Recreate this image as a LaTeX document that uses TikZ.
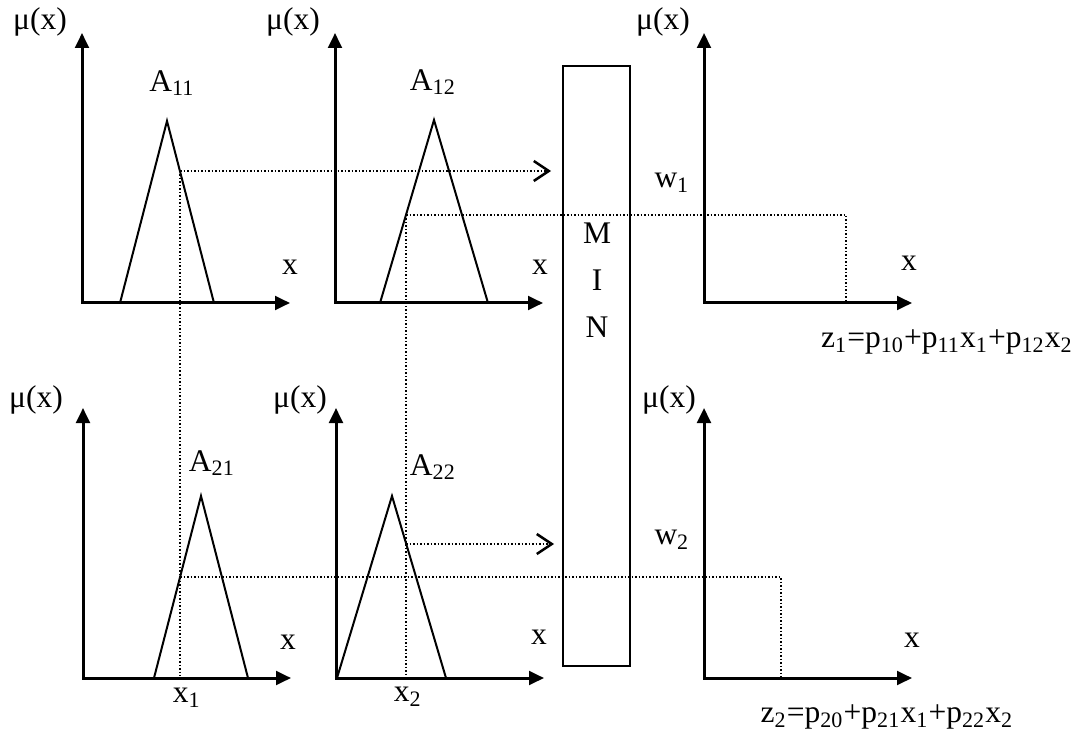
\documentclass[tikz,border=0pt]{standalone}
\usepackage{fontspec}
\setmainfont{Liberation Serif}
\usetikzlibrary{arrows.meta}
\newcommand{\lo}[1]{\textsubscript{#1}}

\begin{document}
\begin{tikzpicture}[x=0.4pt, y=-0.4pt, font=\fontsize{12.6}{15}\selectfont,
  axis/.style={line width=1.2pt, {Triangle[length=6pt,width=5.5pt]}-{Triangle[length=6pt,width=5.5pt]}},
  mf/.style={line width=0.8pt},
  guide/.style={line width=0.6pt, dash pattern=on 0.6pt off 0.8pt},
  cut/.style={guide, -{Straight Barb[length=6pt,width=8pt,line width=1pt]}}]
  \useasboundingbox (0,0) rectangle (1078,731);

  \foreach \ox/\oy in {82/303, 335/303, 704/303, 83/678, 336/678, 704/678}
    \draw[axis] (\ox,\oy-270) -- (\ox,\oy) -- (\ox+208,\oy);

  \draw[mf] (120,303) -- (167,121) -- (214,303);
  \draw[mf] (380,303) -- (434,120) -- (488,303);
  \draw[mf] (154,678) -- (201,496) -- (248,678);
  \draw[mf] (337,678) -- (392,496) -- (446,678);

  \coordinate (c11) at (180,171);
  \coordinate (c12) at (406,215);
  \coordinate (c21) at (180,577);
  \coordinate (c22) at (406,544);
  \coordinate (x1) at (180,676);
  \coordinate (x2) at (406,674);
  \coordinate (in1) at (551,171);
  \coordinate (in2) at (554,544);
  \coordinate (w1) at (846,215);
  \coordinate (z1) at (846,303);
  \coordinate (w2) at (781,577);
  \coordinate (z2) at (781,678);

  \node[draw, line width=0.8pt, minimum width=26.8pt, minimum height=240pt, inner sep=0pt] (minbox) at (596.5,366) {};
  \node[align=center, font=\fontsize{12.6}{18.8}\selectfont] (mintext) at (597,280) {M\\I\\N};

  \draw[guide] (c11) -- (x1);
  \draw[guide] (c12) -- (x2);
  \draw[cut] (c11) -- (in1);
  \draw[cut] (c22) -- (in2);
  \draw[guide] (c12) -- (w1) -- (z1);
  \draw[guide] (c21) -- (w2) -- (z2);

  \node (mu11) at (40,22) {μ(x)};
  \node (mu12) at (293,22) {μ(x)};
  \node (mu13) at (663,22) {μ(x)};
  \node (mu21) at (36,400) {μ(x)};
  \node (mu22) at (300,400) {μ(x)};
  \node (mu23) at (669,400) {μ(x)};

  \node (a11) at (172,83) {A\lo{11}};
  \node (a12) at (433,82) {A\lo{12}};
  \node (a21) at (212,463) {A\lo{21}};
  \node (a22) at (433,467) {A\lo{22}};

  \node (x11) at (290,267) {x};
  \node (x12) at (540,267) {x};
  \node (x13) at (909,263) {x};
  \node (x21) at (288,642) {x};
  \node (x22) at (539,637) {x};
  \node (x23) at (912,640) {x};

  \node (lx1) at (187,698) {x\lo{1}};
  \node (lx2) at (408,697) {x\lo{2}};
  \node (lw1) at (672,183) {w\lo{1}};
  \node (lw2) at (672,540) {w\lo{2}};

  \node (f1) at (947,342) {z\lo{1}=p\lo{10}+p\lo{11}x\lo{1}+p\lo{12}x\lo{2}};
  \node (f2) at (887,717) {z\lo{2}=p\lo{20}+p\lo{21}x\lo{1}+p\lo{22}x\lo{2}};
\end{tikzpicture}
\end{document}
